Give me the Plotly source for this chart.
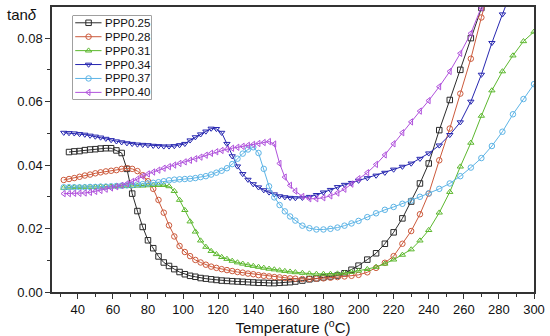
import plotly.graph_objects as go

T = [32, 35, 38, 41, 44, 47, 50, 53, 56, 59, 62, 65, 68, 71, 74, 77, 80, 83, 86, 89,
     92, 95, 98, 101, 104, 107, 110, 113, 116, 119, 122, 125, 128, 131, 134, 137, 140,
     143, 146, 149, 152, 155, 158, 161, 164, 168, 172, 176, 180, 184, 188, 192, 196, 200,
     205, 210, 215, 220, 225, 230, 235, 240, 246, 252, 258, 264, 270, 276, 282, 288, 294, 300]

T_25 = T[1:]
ppp025 = [0.0441, 0.0443, 0.0444, 0.0447, 0.0449, 0.0450, 0.0452, 0.0453, 0.0453, 0.0446,
          0.0438, 0.0388, 0.0310, 0.0255, 0.0205, 0.0163, 0.0138, 0.0112, 0.0093, 0.0082,
          0.0072, 0.0063, 0.0056, 0.0051, 0.0048, 0.0044, 0.0042, 0.0040, 0.0038, 0.0036,
          0.0035, 0.0034, 0.0033, 0.0032, 0.0031, 0.0030, 0.0029, 0.0029, 0.0028, 0.0028,
          0.0029, 0.0030, 0.0031, 0.0033, 0.0036, 0.0040, 0.0043, 0.0046, 0.0049, 0.0052,
          0.0059, 0.0070, 0.0083, 0.0102, 0.0122, 0.0152, 0.0188, 0.0232, 0.0285, 0.0342,
          0.0405, 0.0510, 0.0605, 0.0700, 0.0800, 0.0895, 0.0990]

ppp028 = [0.0353, 0.0356, 0.0359, 0.0363, 0.0367, 0.0370, 0.0374, 0.0377, 0.0380, 0.0382,
          0.0384, 0.0388, 0.0390, 0.0388, 0.0381, 0.0368, 0.0349, 0.0325, 0.0290, 0.0250,
          0.0210, 0.0175, 0.0145, 0.0126, 0.0113, 0.0101, 0.0093, 0.0086, 0.0080, 0.0076,
          0.0072, 0.0069, 0.0066, 0.0063, 0.0061, 0.0058, 0.0056, 0.0053, 0.0051, 0.0049,
          0.0047, 0.0046, 0.0044, 0.0043, 0.0042, 0.0041, 0.0041, 0.0042, 0.0043, 0.0045,
          0.0047, 0.0049, 0.0051, 0.0054, 0.0062, 0.0076, 0.0092, 0.0113, 0.0152, 0.0192,
          0.0245, 0.0310, 0.0415, 0.0515, 0.0625, 0.0735, 0.0865, 0.0990]

ppp031 = [0.0328, 0.0329, 0.0330, 0.0330, 0.0331, 0.0331, 0.0331, 0.0332, 0.0332, 0.0332,
          0.0333, 0.0333, 0.0334, 0.0334, 0.0335, 0.0335, 0.0336, 0.0337, 0.0337, 0.0337,
          0.0333, 0.0318, 0.0290, 0.0258, 0.0222, 0.0190, 0.0162, 0.0142, 0.0129, 0.0119,
          0.0110, 0.0104, 0.0098, 0.0093, 0.0089, 0.0085, 0.0082, 0.0079, 0.0076, 0.0073,
          0.0071, 0.0068, 0.0066, 0.0064, 0.0062, 0.0060, 0.0058, 0.0057, 0.0057, 0.0057,
          0.0058, 0.0060, 0.0063, 0.0067, 0.0072, 0.0079, 0.0089, 0.0102, 0.0117, 0.0134,
          0.0162, 0.0195, 0.0250, 0.0315, 0.0395, 0.0470, 0.0555, 0.0635, 0.0695, 0.0745,
          0.0790, 0.0820]

ppp034 = [0.0502, 0.0501, 0.0500, 0.0498, 0.0496, 0.0493, 0.0490, 0.0487, 0.0483, 0.0479,
          0.0475, 0.0472, 0.0469, 0.0467, 0.0465, 0.0464, 0.0463, 0.0461, 0.0460, 0.0459,
          0.0459, 0.0460, 0.0463, 0.0467, 0.0478, 0.0488, 0.0497, 0.0506, 0.0515, 0.0514,
          0.0502, 0.0467, 0.0428, 0.0396, 0.0372, 0.0354, 0.0340, 0.0330, 0.0321, 0.0314,
          0.0308, 0.0302, 0.0299, 0.0297, 0.0296, 0.0297, 0.0300, 0.0306, 0.0314, 0.0322,
          0.0331, 0.0338, 0.0344, 0.0351, 0.0359, 0.0367, 0.0376, 0.0386, 0.0395, 0.0405,
          0.0420, 0.0437, 0.0462, 0.0495, 0.0535, 0.0600, 0.0685, 0.0785, 0.0875, 0.0960]

ppp037 = [0.0330, 0.0330, 0.0330, 0.0330, 0.0330, 0.0331, 0.0331, 0.0332, 0.0332, 0.0333,
          0.0334, 0.0335, 0.0336, 0.0337, 0.0339, 0.0340, 0.0342, 0.0344, 0.0346, 0.0349,
          0.0352, 0.0354, 0.0355, 0.0356, 0.0357, 0.0359, 0.0362, 0.0365, 0.0370, 0.0376,
          0.0382, 0.0390, 0.0403, 0.0420, 0.0436, 0.0449, 0.0456, 0.0438, 0.0388, 0.0333,
          0.0298, 0.0274, 0.0254, 0.0238, 0.0225, 0.0209, 0.0201, 0.0197, 0.0197, 0.0199,
          0.0203, 0.0209, 0.0216, 0.0224, 0.0236, 0.0248, 0.0259, 0.0268, 0.0278, 0.0288,
          0.0300, 0.0311, 0.0325, 0.0342, 0.0365, 0.0392, 0.0422, 0.0460, 0.0505, 0.0560,
          0.0608, 0.0655]

ppp040 = [0.0310, 0.0310, 0.0311, 0.0311, 0.0312, 0.0314, 0.0317, 0.0320, 0.0324, 0.0328,
          0.0332, 0.0336, 0.0341, 0.0348, 0.0356, 0.0365, 0.0372, 0.0378, 0.0384, 0.0390,
          0.0395, 0.0400, 0.0405, 0.0410, 0.0415, 0.0420, 0.0425, 0.0431, 0.0437, 0.0442,
          0.0446, 0.0450, 0.0453, 0.0456, 0.0459, 0.0462, 0.0465, 0.0468, 0.0471, 0.0474,
          0.0466, 0.0405, 0.0362, 0.0336, 0.0318, 0.0301, 0.0294, 0.0294, 0.0297, 0.0303,
          0.0312, 0.0324, 0.0340, 0.0357, 0.0376, 0.0402, 0.0432, 0.0467, 0.0502, 0.0536,
          0.0570, 0.0603, 0.0647, 0.0695, 0.0752, 0.0815, 0.0895, 0.0980]

names = ["PPP0.25", "PPP0.28", "PPP0.31", "PPP0.34", "PPP0.37", "PPP0.40"]
xs_list = [T_25, T, T, T, T, T]
ys_list = [ppp025, ppp028, ppp031, ppp034, ppp037, ppp040]
colors = ["#2b2b2b", "#cc5a3c", "#5cb82e", "#2626b0", "#5db4e6", "#b052dc"]
symbols = ["square-open", "circle-open", "triangle-up-open", "triangle-down-open",
           "circle-open", "triangle-left-open"]

font = "Liberation Sans, Arial, sans-serif"
fig = go.Figure()
for name, xs, ys, color, sym in zip(names, xs_list, ys_list, colors, symbols):
    fig.add_trace(go.Scatter(
        x=xs[:len(ys)], y=ys, name=name, mode="lines+markers", showlegend=False,
        line=dict(color=color, width=1),
        marker=dict(symbol=sym, size=5.5, color=color, line=dict(width=1, color=color)),
    ))

# Legend drawn in a small helper subplot (units: rows 0..6 down, x 0..1)
annotations = []
for i, (name, color, sym) in enumerate(zip(names, colors, symbols)):
    row = i + 0.5
    fig.add_trace(go.Scatter(
        x=[0.03, 0.365], y=[row, row], mode="lines", xaxis="x2", yaxis="y2",
        line=dict(color=color, width=1), showlegend=False, hoverinfo="skip"))
    fig.add_trace(go.Scatter(
        x=[0.2], y=[row], mode="markers", xaxis="x2", yaxis="y2",
        marker=dict(symbol=sym, size=5.5, color=color, line=dict(width=1, color=color)),
        showlegend=False, hoverinfo="skip"))
    annotations.append(dict(text=name, x=0.39, y=row, xref="x2", yref="y2",
                            xanchor="left", yanchor="middle", showarrow=False,
                            font=dict(size=11.5, family=font, color="#111")))

annotations.append(dict(text="tan<i>δ</i>", xref="paper", yref="paper",
                        x=-0.097, y=0.973, xanchor="left", yanchor="middle",
                        showarrow=False, font=dict(size=15, family=font, color="#111")))

fig.update_layout(
    width=550, height=336,
    margin=dict(l=52, r=13, t=5, b=44),
    paper_bgcolor="white", plot_bgcolor="white",
    font=dict(family=font, size=13, color="#111"),
    showlegend=False,
    xaxis=dict(range=[25.3, 300], tickmode="array",
               tickvals=list(range(40, 301, 20)),
               ticks="outside", ticklen=5, tickwidth=1.2, tickcolor="#333",
               showline=True, linecolor="#333", linewidth=1.5, mirror=True,
               showgrid=False, zeroline=False,
               minor=dict(tickvals=list(range(30, 301, 10)), ticks="outside",
                          ticklen=3, tickwidth=1, tickcolor="#333"),
               title=dict(text="Temperature (<sup>o</sup>C)", font=dict(size=15), standoff=3)),
    yaxis=dict(range=[0, 0.0898], tickvals=[0, 0.02, 0.04, 0.06, 0.08], tickformat=".2f",
               ticks="outside", ticklen=5, tickwidth=1.2, tickcolor="#333",
               showline=True, linecolor="#333", linewidth=1.5, mirror=True,
               showgrid=False, zeroline=False,
               minor=dict(tickvals=[0.01, 0.03, 0.05, 0.07], ticks="outside",
                          ticklen=3, tickwidth=1, tickcolor="#333")),
    xaxis2=dict(domain=[0.0433, 0.2062], range=[0, 1], anchor="y2", visible=False,
                fixedrange=True),
    yaxis2=dict(domain=[0.676, 0.969], range=[6, 0], anchor="x2", visible=False,
                fixedrange=True),
    shapes=[dict(type="rect", xref="x2 domain", yref="y2 domain", x0=0, x1=1, y0=0, y1=1,
                 line=dict(color="#555", width=1), fillcolor="white", layer="below")],
    annotations=annotations,
)

fig.write_html("out.html", config={"displayModeBar": False},
               post_script="document.body.style.margin='0';")
